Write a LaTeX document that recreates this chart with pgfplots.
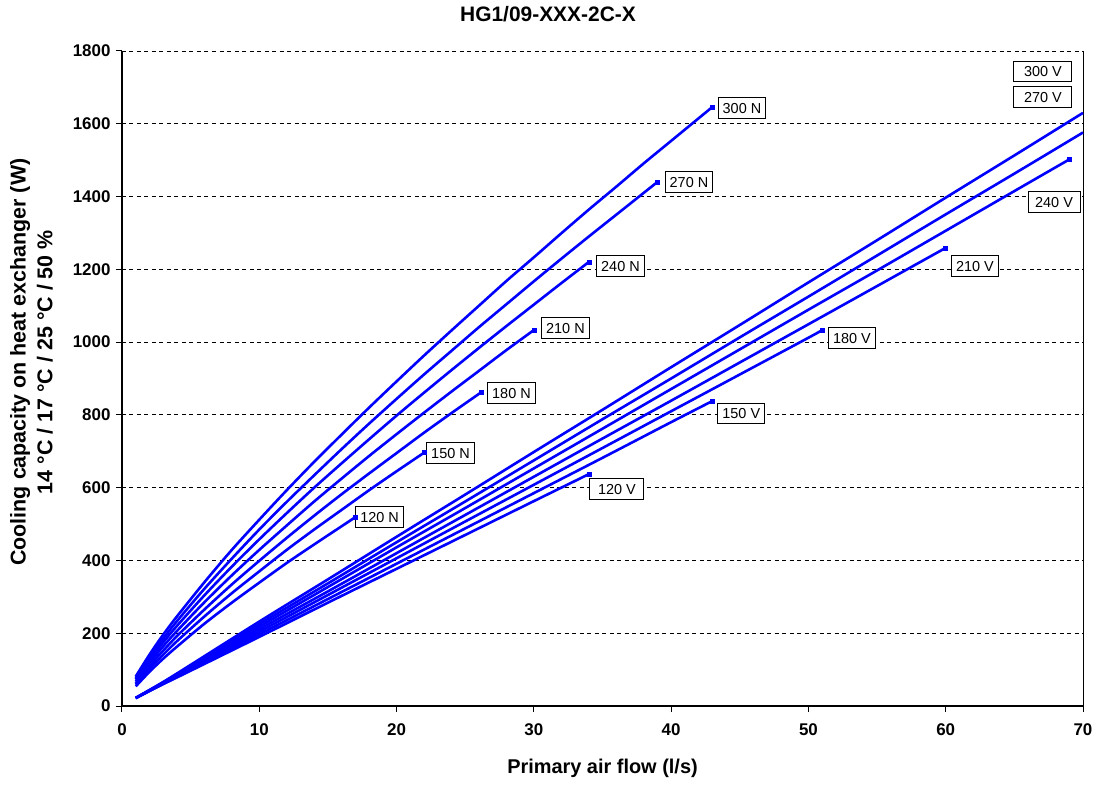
\documentclass[border=0pt]{standalone}
\usepackage{fontspec}
\setmainfont{Liberation Sans}
\usepackage{pgfplots}
\pgfplotsset{compat=1.18}
\definecolor{cblue}{RGB}{0,0,255}
\tikzset{lbl/.style={draw=black, fill=white, line width=1bp, font=\fontsize{14.5}{16}\selectfont, inner xsep=4.5bp, inner ysep=5bp, text height=10.4bp, text depth=0bp, anchor=center},
  cl/.style={cblue, solid, line width=2.6bp, smooth}}
\begin{document}
\begin{tikzpicture}
\begin{axis}[
  scale only axis, width=961bp, height=655bp,
  xmin=0, xmax=70, ymin=0, ymax=1800,
  xtick={0,10,...,70}, ytick={0,200,...,1800},
  axis lines=left, axis line style={-, line width=1.1bp},
  tick align=outside, major tick length=6bp,
  tick style={black, line width=1bp},
  ymajorgrids, grid style={black, line width=0.8bp, dash pattern=on 4bp off 3.5bp},
  /pgf/number format/assume math mode=true,
  /pgf/number format/1000 sep={},
  ticklabel style={font=\fontsize{17}{20}\selectfont\bfseries},
  xticklabel style={yshift=-8bp},
  yticklabel style={xshift=-2bp},
  xlabel={Primary air flow (l/s)},
  xlabel style={at={(rel axis cs:0.5,-0.0947)}, anchor=center, font=\fontsize{20}{24}\selectfont\bfseries},
  ylabel={Cooling capacity on heat exchanger (W)\\14 °C / 17 °C / 25 °C / 50 \%},
  ylabel style={at={(rel axis cs:-0.0942,0.525)}, anchor=center, align=center, font=\fontsize{21.5}{27}\selectfont\bfseries},
  clip=false,
]
\coordinate (BL) at (rel axis cs:0,0);
\draw[black, line width=1bp] (rel axis cs:1,0) -- (rel axis cs:1,1);
% N curves
\addplot[cl] coordinates {(1,81) (2,141) (3,196) (4,246) (6,340) (8,429) (10,512) (12,593) (14,671) (16,746) (18,820) (20,892) (22,963) (24,1032) (26,1100) (28,1168) (30,1233) (32,1299) (34,1364) (36,1427) (38,1491) (40,1553) (42,1615) (43,1646)};
\addplot[cl] coordinates {(1,77) (2,134) (3,185) (4,233) (6,322) (8,405) (10,485) (12,561) (14,634) (16,706) (18,776) (20,844) (22,911) (24,976) (26,1041) (28,1104) (30,1167) (32,1229) (34,1290) (36,1350) (38,1410) (39,1440)};
\addplot[cl] coordinates {(1,73) (2,126) (3,175) (4,220) (6,304) (8,383) (10,458) (12,530) (14,600) (16,667) (18,733) (20,798) (22,861) (24,923) (26,984) (28,1044) (30,1103) (32,1162) (34,1220)};
\addplot[cl] coordinates {(1,68) (2,118) (3,164) (4,206) (6,285) (8,359) (10,429) (12,496) (14,562) (16,625) (18,687) (20,747) (22,806) (24,864) (26,921) (28,978) (30,1033)};
\addplot[cl] coordinates {(1,63) (2,110) (3,152) (4,192) (6,265) (8,334) (10,399) (12,462) (14,523) (16,582) (18,639) (20,695) (22,751) (24,805) (26.2,863)};
\addplot[cl] coordinates {(1,59) (2,102) (3,141) (4,178) (6,246) (8,310) (10,370) (12,429) (14,485) (16,539) (18,593) (20,645) (22,696)};
\addplot[cl] coordinates {(1,54) (2,94) (3,130) (4,163) (6,226) (8,284) (10,339) (12,393) (14,444) (16,494) (17,519)};
% V curves
\addplot[cl] coordinates {(1,22) (3,66) (5,113) (10,232) (15,348) (20,465) (25,581) (30,698) (35,814) (40,931) (45,1047) (50,1164) (55,1280) (60,1397) (65,1513) (70,1630)};
\addplot[cl] coordinates {(1,22) (3,65) (5,110) (10,225) (15,337) (20,450) (25,562) (30,675) (35,788) (40,900) (45,1013) (50,1125) (55,1238) (60,1351) (65,1463) (70,1576)};
\addplot[cl] coordinates {(1,22) (3,64) (5,107) (10,218) (15,327) (20,436) (25,544) (30,653) (35,762) (40,871) (45,980) (50,1089) (55,1197) (60,1306) (65,1415) (69,1502)};
\addplot[cl] coordinates {(1,22) (3,63) (5,104) (10,211) (15,315) (20,420) (25,525) (30,630) (35,735) (40,839) (45,944) (50,1049) (55,1154) (60,1259)};
\addplot[cl] coordinates {(1,22) (3,62) (5,102) (10,204) (15,305) (20,406) (25,507) (30,608) (35,709) (40,810) (45,911) (50,1012) (51,1033)};
\addplot[cl] coordinates {(1,22) (3,61) (5,99) (10,197) (15,294) (20,391) (25,488) (30,585) (35,682) (40,780) (43,838)};
\addplot[cl] coordinates {(1,22) (3,60) (5,97) (10,190) (15,284) (20,377) (25,470) (30,563) (34,637)};
% end markers
\addplot[cblue, only marks, mark=square*, mark size=2bp, mark options={line width=0.5bp, cblue}] coordinates {(43,1646) (39,1440) (34,1220) (30,1033) (26.2,863) (22,696) (17,519) (69,1502) (60,1259) (51,1033) (43,838) (34,637)};
% labels
\node[lbl] at (axis cs:45.16,1643) {300 N};
\node[lbl] at (axis cs:41.3,1440) {270 N};
\node[lbl] at (axis cs:36.31,1209) {240 N};
\node[lbl] at (axis cs:32.30,1039) {210 N};
\node[lbl] at (axis cs:28.37,860) {180 N};
\node[lbl] at (axis cs:23.93,695) {150 N};
\node[lbl] at (axis cs:18.76,519) {120 N};
\node[lbl, minimum width=54bp] at (axis cs:36.05,596) {120 V};
\node[lbl] at (axis cs:45.11,804) {150 V};
\node[lbl] at (axis cs:53.17,1011) {180 V};
\node[lbl] at (axis cs:62.13,1209) {210 V};
\node[lbl, minimum width=52bp] at (axis cs:67.89,1385) {240 V};
\node[lbl, minimum width=58bp] at (axis cs:67.08,1743) {300 V};
\node[lbl, minimum width=58bp] at (axis cs:67.08,1674) {270 V};
\node[font=\fontsize{21}{25}\selectfont\bfseries, anchor=center] at (rel axis cs:0.4433,1.0565) {HG1/09-XXX-2C-X};
\end{axis}
\pgfresetboundingbox
\path[use as bounding box] (BL) ++(-122bp,-81bp) rectangle ++(1096bp,787bp);
\end{tikzpicture}
\end{document}
